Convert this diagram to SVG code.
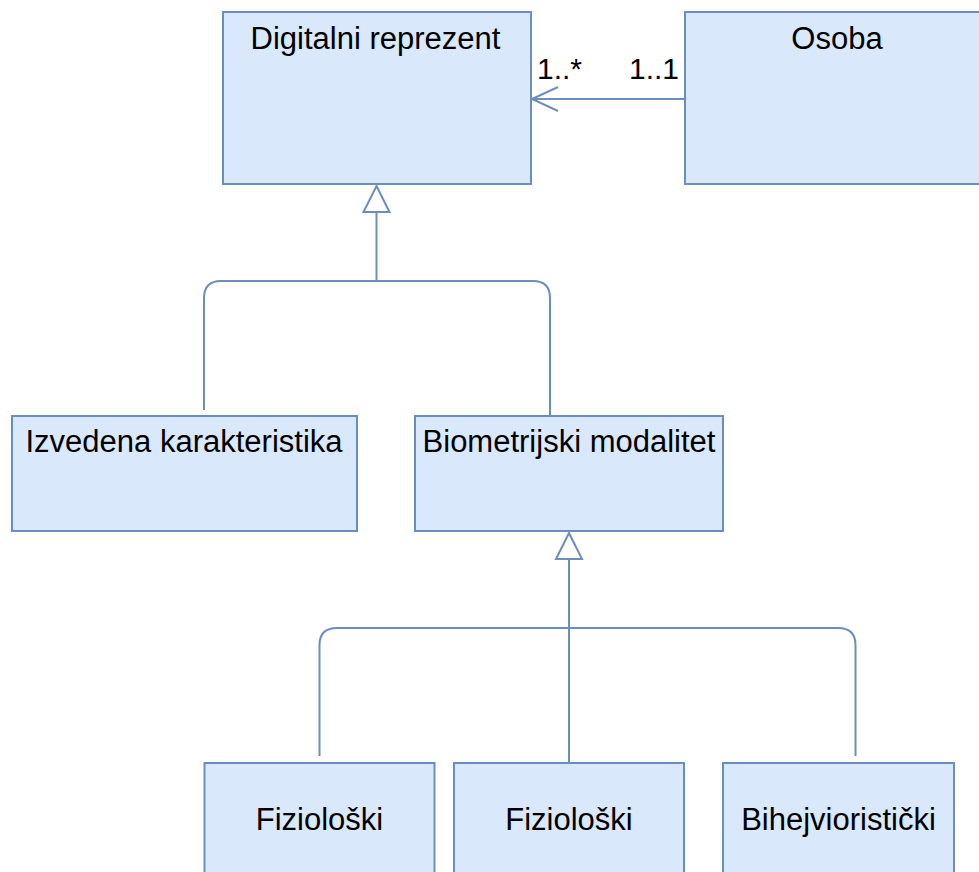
<svg xmlns="http://www.w3.org/2000/svg" width="979" height="872" viewBox="0 0 979 872">
  <style>
    .box { fill: #dae8fc; stroke: #6c8ebf; stroke-width: 2; }
    .lbl { font-family: "Liberation Sans", Arial, sans-serif; font-size: 31px; fill: #000; text-anchor: middle; }
    .mult { font-family: "Liberation Sans", Arial, sans-serif; font-size: 30px; fill: #000; }
    .edge { fill: none; stroke: #6c8ebf; stroke-width: 2; }
    .tri { fill: #ffffff; stroke: #6c8ebf; stroke-width: 2; stroke-linejoin: miter; }
  </style>
  <rect width="979" height="872" fill="#ffffff"/>

  <g id="connectors">
    <!-- association Osoba -> Digitalni reprezent -->
    <path class="edge" d="M685 99 H532"/>
    <path class="edge" d="M558 87 L532 99 L558 111"/>
    <text class="mult" x="537" y="79">1..*</text>
    <text class="mult" x="629" y="79">1..1</text>

    <!-- generalization to Digitalni reprezent -->
    <path class="edge" d="M376.5 212 V281"/>
    <path class="edge" d="M204 410 V298 Q204 281 221 281 H533 Q550 281 550 298 V416"/>
    <path class="tri" d="M376.5 186 L389.5 212 L363.5 212 Z"/>

    <!-- generalization to Biometrijski modalitet -->
    <path class="edge" d="M569 559 V763"/>
    <path class="edge" d="M319.5 756 V645 Q319.5 628 337 628 H838 Q855.5 628 855.5 645 V756"/>
    <path class="tri" d="M569 533 L582 559 L556 559 Z"/>
  </g>

  <g id="digitalni-reprezent">
    <rect class="box" x="223" y="12" width="308" height="172"/>
    <text class="lbl" x="375.5" y="49">Digitalni reprezent</text>
  </g>
  <g id="osoba">
    <rect class="box" x="685" y="12" width="308" height="172"/>
    <text class="lbl" x="837" y="49">Osoba</text>
  </g>
  <g id="izvedena-karakteristika">
    <rect class="box" x="12" y="416" width="345" height="115"/>
    <text class="lbl" x="184" y="452">Izvedena karakteristika</text>
  </g>
  <g id="biometrijski-modalitet">
    <rect class="box" x="415" y="416" width="308" height="115"/>
    <text class="lbl" x="569" y="452">Biometrijski modalitet</text>
  </g>
  <g id="fizioloski-1">
    <rect class="box" x="204.5" y="763" width="230" height="120"/>
    <text class="lbl" x="319.5" y="830">Fiziološki</text>
  </g>
  <g id="fizioloski-2">
    <rect class="box" x="454" y="763" width="230" height="120"/>
    <text class="lbl" x="569" y="830">Fiziološki</text>
  </g>
  <g id="bihejvioristicki">
    <rect class="box" x="723" y="763" width="231" height="120"/>
    <text class="lbl" x="838.5" y="830">Bihejvioristički</text>
  </g>
</svg>
